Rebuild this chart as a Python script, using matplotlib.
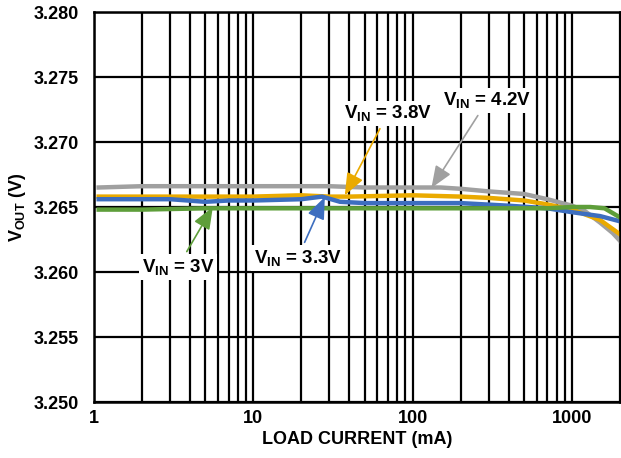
import matplotlib
matplotlib.use("Agg")
import matplotlib.pyplot as plt
import numpy as np

plt.rcParams['font.family'] = ['Liberation Sans', 'DejaVu Sans']
plt.rcParams['font.weight'] = 'bold'
plt.rcParams['axes.labelweight'] = 'bold'
plt.rcParams['mathtext.fontset'] = 'custom'
plt.rcParams['mathtext.rm'] = 'Liberation Sans:bold'
plt.rcParams['mathtext.it'] = 'Liberation Sans:bold'
plt.rcParams['mathtext.bf'] = 'Liberation Sans:bold'

fs = 13

# data
x_42 = [1.07, 2, 3, 5, 10, 20, 30, 50, 100, 150, 200, 300, 500, 700, 1000, 1200, 1500, 1800, 2000]
v_42 = [3.2665, 3.2666, 3.2666, 3.2666, 3.2666, 3.2666, 3.2666, 3.2665, 3.2665, 3.2665,
        3.2664, 3.2662, 3.2660, 3.2656, 3.2651, 3.2647, 3.2638, 3.2630, 3.2624]

x_38 = [1.07, 5, 10, 20, 30, 40, 100, 200, 300, 500, 700, 1000, 1500, 2000]
v_38 = [3.2658, 3.2658, 3.2658, 3.2659, 3.2658, 3.2658, 3.2659, 3.2658, 3.2657, 3.2655,
        3.2652, 3.2648, 3.2640, 3.2629]

x_33 = [1.07, 3, 5, 7, 10, 20, 27, 35, 50, 100, 200, 400, 700, 1000, 1500, 2000]
v_33 = [3.2656, 3.2656, 3.2654, 3.2655, 3.2655, 3.2656, 3.2658, 3.2654, 3.2653, 3.2653,
        3.2653, 3.2651, 3.2649, 3.2646, 3.2643, 3.2639]

x_30 = [1.07, 2, 5, 10, 50, 100, 300, 700, 1000, 1300, 1600, 2000]
v_30 = [3.2648, 3.2648, 3.2649, 3.2649, 3.2649, 3.2649, 3.2649, 3.2649, 3.2650, 3.2650,
        3.2649, 3.2642]

c_42 = '#a0a0a0'
c_38 = '#eaaa00'
c_33 = '#3d6ebf'
c_30 = '#5e9e3a'

fig = plt.figure(figsize=(6.21, 4.58), dpi=100)
ax = fig.add_axes([94 / 621, 1 - 402 / 458, 526 / 621, 390 / 458])

ax.set_xscale('log')
ax.set_xlim(1, 2000)
ax.set_ylim(3.250, 3.280)
ax.set_yticks(np.arange(3.250, 3.2801, 0.005))
ax.yaxis.set_major_formatter(matplotlib.ticker.StrMethodFormatter("{x:.3f}"))
ax.xaxis.set_major_formatter(matplotlib.ticker.StrMethodFormatter("{x:.0f}"))
ax.xaxis.set_minor_formatter(matplotlib.ticker.NullFormatter())

ax.grid(True, which='major', color='black', linewidth=1.6)
ax.grid(True, which='minor', axis='x', color='black', linewidth=1.6)
ax.tick_params(axis='y', which='both', length=0, labelsize=fs, pad=11)
ax.tick_params(axis='x', which='both', length=0, labelsize=fs, pad=6)
for s in ax.spines.values():
    s.set_linewidth(1.8)

ax.plot(x_42, v_42, color=c_42, linewidth=3.2)
ax.plot(x_38, v_38, color=c_38, linewidth=3.2)
ax.plot(x_33, v_33, color=c_33, linewidth=3.2)
ax.plot(x_30, v_30, color=c_30, linewidth=3.2)

ax.set_xlabel('LOAD CURRENT (mA)', fontsize=fs, labelpad=3)
ax.set_ylabel(r'V$_\mathrm{OUT}$ (V)', fontsize=fs, labelpad=4)

box = dict(boxstyle='square,pad=0.15', fc='white', ec='none')

def note(txt, xy, xytext, color):
    ax.annotate(txt, xy=xy, xytext=xytext, fontsize=13.5, ha='center', va='center',
                bbox=box,
                arrowprops=dict(arrowstyle='-|>,head_length=1.0,head_width=0.4',
                                color=color, lw=1.2, shrinkA=2, shrinkB=0))

note(r'V$_\mathrm{IN}$ = 3.8V', (37.5, 3.2659), (70, 3.2722), c_38)
note(r'V$_\mathrm{IN}$ = 4.2V', (131, 3.26646), (295, 3.2732), c_42)
note(r'V$_\mathrm{IN}$ = 3V', (5.57, 3.2650), (3.36, 3.2604), c_30)
note(r'V$_\mathrm{IN}$ = 3.3V', (28.1, 3.26577), (19.0, 3.2611), c_33)

fig.savefig('out.png')
